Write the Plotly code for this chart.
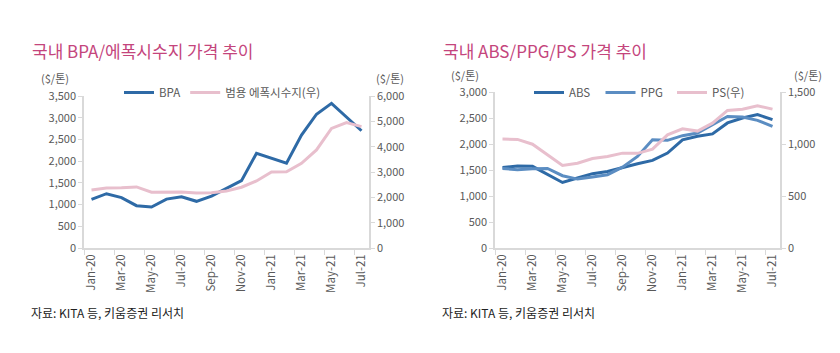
import plotly.graph_objects as go

months = ["Jan-20", "Feb-20", "Mar-20", "Apr-20", "May-20", "Jun-20", "Jul-20", "Aug-20",
          "Sep-20", "Oct-20", "Nov-20", "Dec-20", "Jan-21", "Feb-21", "Mar-21", "Apr-21",
          "May-21", "Jun-21", "Jul-21"]

bpa = [1120, 1250, 1160, 975, 945, 1125, 1180, 1075, 1195, 1370, 1550, 2180,
       2065, 1955, 2600, 3080, 3330, 3020, 2700]
epoxy = [2290, 2370, 2380, 2410, 2200, 2210, 2210, 2170, 2185, 2250, 2400, 2645,
         3000, 3010, 3340, 3870, 4720, 4950, 4790]

abs_ = [1550, 1575, 1570, 1410, 1260, 1345, 1430, 1470, 1550, 1620, 1685, 1825,
        2080, 2150, 2195, 2405, 2500, 2565, 2470]
ppg = [1530, 1505, 1525, 1530, 1390, 1325, 1365, 1410, 1555, 1760, 2080, 2070,
       2160, 2210, 2370, 2530, 2520, 2455, 2340]
ps = [1047, 1044, 998, 896, 793, 815, 860, 880, 912, 910, 950, 1088,
      1146, 1124, 1200, 1323, 1335, 1368, 1335]

titles = ["국내 BPA/에폭시수지 가격 추이", "국내 ABS/PPG/PS 가격 추이"]
unit = "($/톤)"
source = "자료: KITA 등, 키움증권 리서치"

W, H = 840, 353
FONT = "Noto Sans CJK KR"
TICKC = "#595959"
LINEC = "#d9d9d9"
BLUE = "#2e6aa6"
BLUE2 = "#5b8dc2"
PINK = "#e8bfcd"
TITLEC = "#c4457c"

def px_x(p):
    return p / W

def px_y(p):
    return 1 - p / H

fig = go.Figure()

fig.add_trace(go.Scatter(x=months, y=bpa, name="BPA", mode="lines",
                         line=dict(color=BLUE, width=3), xaxis="x", yaxis="y", legend="legend"))
fig.add_trace(go.Scatter(x=months, y=epoxy, name="범용 에폭시수지(우)", mode="lines",
                         line=dict(color=PINK, width=3), xaxis="x", yaxis="y2", legend="legend"))
fig.add_trace(go.Scatter(x=months, y=abs_, name="ABS", mode="lines",
                         line=dict(color=BLUE, width=3), xaxis="x2", yaxis="y3", legend="legend2"))
fig.add_trace(go.Scatter(x=months, y=ppg, name="PPG", mode="lines",
                         line=dict(color=BLUE2, width=3), xaxis="x2", yaxis="y3", legend="legend2"))
fig.add_trace(go.Scatter(x=months, y=ps, name="PS(우)", mode="lines",
                         line=dict(color=PINK, width=3), xaxis="x2", yaxis="y4", legend="legend2"))

tickfont = dict(family=FONT, size=11, color=TICKC)
xtickfont = dict(family=FONT, size=11.5, color=TICKC)

xcommon = dict(type="category", categoryorder="array", categoryarray=months,
               range=[-0.5, len(months) - 0.5], dtick=2, tickson="boundaries",
               tickangle=-90, showline=True, linecolor=LINEC, linewidth=1.5,
               ticks="outside", ticklen=5, tickcolor=LINEC, showgrid=False,
               zeroline=False, tickfont=xtickfont, fixedrange=True, automargin=False)
ycommon = dict(showline=True, linecolor=LINEC, linewidth=1.5, ticks="outside",
               ticklen=4, tickcolor=LINEC, showgrid=False, zeroline=False,
               tickfont=tickfont, tickformat=",", fixedrange=True, automargin=False)

dom1 = [px_x(84), px_x(369)]
dom2 = [px_x(495), px_x(780)]
ydom1 = [px_y(248), px_y(96)]
ydom2 = [px_y(248), px_y(92)]

legfont = dict(family=FONT, size=11.5, color=TICKC)

fig.update_layout(
    width=W, height=H,
    margin=dict(l=0, r=0, t=0, b=0, autoexpand=False),
    paper_bgcolor="white", plot_bgcolor="white",
    font=dict(family=FONT, color=TICKC),
    xaxis=dict(domain=dom1, anchor="y", **xcommon),
    yaxis=dict(domain=ydom1, anchor="x", range=[0, 3500], dtick=500, **ycommon),
    yaxis2=dict(domain=ydom1, anchor="x", overlaying="y", side="right",
                range=[0, 6000], dtick=1000, **ycommon),
    xaxis2=dict(domain=dom2, anchor="y3", **xcommon),
    yaxis3=dict(domain=ydom2, anchor="x2", range=[0, 3000], dtick=500, **ycommon),
    yaxis4=dict(domain=ydom2, anchor="x2", overlaying="y3", side="right",
                range=[0, 1500], dtick=500, **ycommon),
    legend=dict(orientation="h", x=px_x(119), y=px_y(78), xanchor="left", yanchor="top",
                font=legfont, bgcolor="rgba(0,0,0,0)",
                tracegroupgap=0, traceorder="normal"),
    legend2=dict(orientation="h", x=px_x(529), y=px_y(78), xanchor="left", yanchor="top",
                 font=legfont, bgcolor="rgba(0,0,0,0)",
                 entrywidth=26.5, entrywidthmode="pixels", tracegroupgap=0, traceorder="normal"),
    showlegend=True,
)

ann = []
ann.append(dict(text=titles[0], x=px_x(30), y=px_y(50), xref="paper", yref="paper",
                xanchor="left", yanchor="middle", showarrow=False,
                font=dict(family=FONT, size=17, color=TITLEC)))
ann.append(dict(text=titles[1], x=px_x(441), y=px_y(50), xref="paper", yref="paper",
                xanchor="left", yanchor="middle", showarrow=False,
                font=dict(family=FONT, size=17, color=TITLEC)))
for xc, yc in [(55, 78), (390, 78), (465, 75), (808, 75)]:
    ann.append(dict(text=unit, x=px_x(xc), y=px_y(yc), xref="paper", yref="paper",
                    xanchor="center", yanchor="middle", showarrow=False,
                    font=dict(family=FONT, size=11, color=TICKC)))
for xc in [29, 440]:
    ann.append(dict(text=source, x=px_x(xc), y=px_y(312), xref="paper", yref="paper",
                    xanchor="left", yanchor="middle", showarrow=False,
                    font=dict(family=FONT, size=12, color="#222222")))
fig.update_layout(annotations=ann)

fig.write_html("out.html")
